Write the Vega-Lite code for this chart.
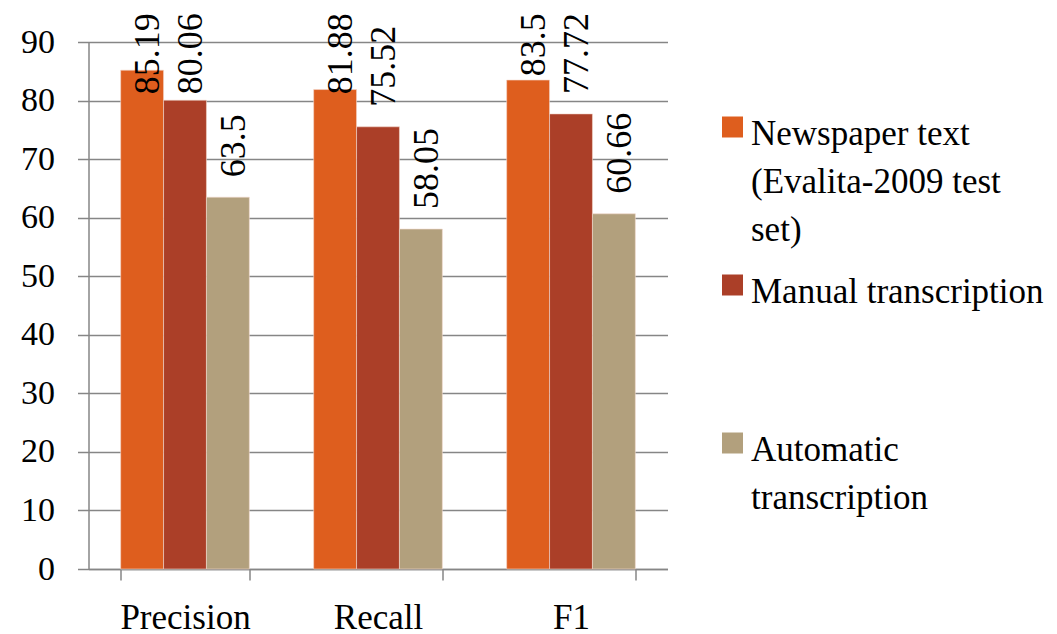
{
  "$schema": "https://vega.github.io/schema/vega-lite/v6.json",
  "width": 579,
  "height": 527,
  "autosize": {"type": "none"},
  "padding": {"left": 88.5, "top": 42, "right": 389.5, "bottom": 65},
  "background": "white",
  "config": {
    "view": {"stroke": null},
    "font": "Liberation Serif",
    "mark": {"font": "Liberation Serif"},
    "text": {"font": "Liberation Serif"},
    "style": {"guide-label": {"lineHeight": 48}}
  },
  "data": {
    "values": [
      {"metric": "Precision", "source": "Newspaper text (Evalita-2009 test set)", "value": 85.19},
      {"metric": "Precision", "source": "Manual transcription", "value": 80.06},
      {"metric": "Precision", "source": "Automatic transcription", "value": 63.5},
      {"metric": "Recall", "source": "Newspaper text (Evalita-2009 test set)", "value": 81.88},
      {"metric": "Recall", "source": "Manual transcription", "value": 75.52},
      {"metric": "Recall", "source": "Automatic transcription", "value": 58.05},
      {"metric": "F1", "source": "Newspaper text (Evalita-2009 test set)", "value": 83.5},
      {"metric": "F1", "source": "Manual transcription", "value": 77.72},
      {"metric": "F1", "source": "Automatic transcription", "value": 60.66}
    ]
  },
  "encoding": {
    "x": {
      "field": "metric",
      "type": "nominal",
      "sort": ["Precision", "Recall", "F1"],
      "scale": {"paddingInner": 0.3333, "paddingOuter": 0.16667},
      "axis": {
        "title": null,
        "labelAngle": 0,
        "labelFont": "Liberation Serif",
        "labelFontSize": 35,
        "labelColor": "black",
        "labelPadding": 20,
        "tickBand": "extent",
        "tickSize": 11,
        "tickColor": "#868686",
        "tickWidth": 1.5,
        "domainColor": "#868686",
        "domainWidth": 1.5,
        "grid": false
      }
    },
    "xOffset": {
      "field": "source",
      "type": "nominal",
      "sort": ["Newspaper text (Evalita-2009 test set)", "Manual transcription", "Automatic transcription"]
    },
    "y": {
      "field": "value",
      "type": "quantitative",
      "scale": {"domain": [0, 90], "nice": false},
      "axis": {
        "title": null,
        "values": [0, 10, 20, 30, 40, 50, 60, 70, 80, 90],
        "labelFont": "Liberation Serif",
        "labelFontSize": 34,
        "labelColor": "black",
        "labelPadding": 23,
        "tickSize": 11,
        "tickColor": "#868686",
        "tickWidth": 1.5,
        "domainColor": "#868686",
        "domainWidth": 1.5,
        "grid": true,
        "gridColor": "#868686",
        "gridWidth": 1.5
      }
    }
  },
  "layer": [
    {
      "mark": {"type": "bar", "stroke": "#f3d9cc", "strokeWidth": 0.6},
      "encoding": {
        "color": {
          "field": "source",
          "type": "nominal",
          "sort": ["Newspaper text (Evalita-2009 test set)", "Manual transcription", "Automatic transcription"],
          "scale": {
            "domain": ["Newspaper text (Evalita-2009 test set)", "Manual transcription", "Automatic transcription"],
            "range": ["#DE5E1E", "#AB3F28", "#B2A07D"]
          },
          "legend": {
            "title": null,
            "orient": "none",
            "legendX": 626.5,
            "legendY": 57,
            "padding": 0,
            "symbolType": "M-1,0L1,0L1,2L-1,2Z",
            "symbolSize": 441,
            "symbolStrokeWidth": 0,
            "labelFont": "Liberation Serif",
            "labelFontSize": 35,
            "labelColor": "black",
            "labelOffset": 1,
            "labelLimit": 400,
            "gridAlign": "all",
            "rowPadding": 9,
            "labelBaseline": "top",
            "labelExpr": "datum.label == 'Newspaper text (Evalita-2009 test set)' ? ['Newspaper text', '(Evalita-2009 test', 'set)'] : datum.label == 'Automatic transcription' ? ['Automatic', 'transcription'] : datum.label"
          }
        }
      }
    },
    {
      "transform": [{"filter": "datum.value < 78"}],
      "mark": {"type": "text", "font": "Liberation Serif", "angle": 270, "align": "left", "baseline": "middle", "dx": 20, "dy": 6, "fontSize": 36, "color": "black"},
      "encoding": {"text": {"field": "value", "type": "quantitative"}}
    },
    {
      "transform": [{"filter": "datum.value >= 78"}],
      "mark": {"type": "text", "font": "Liberation Serif", "angle": 270, "align": "right", "baseline": "middle", "dy": 6, "fontSize": 36, "color": "black"},
      "encoding": {
        "y": {"datum": 94.9},
        "text": {"field": "value", "type": "quantitative"}
      }
    }
  ]
}
